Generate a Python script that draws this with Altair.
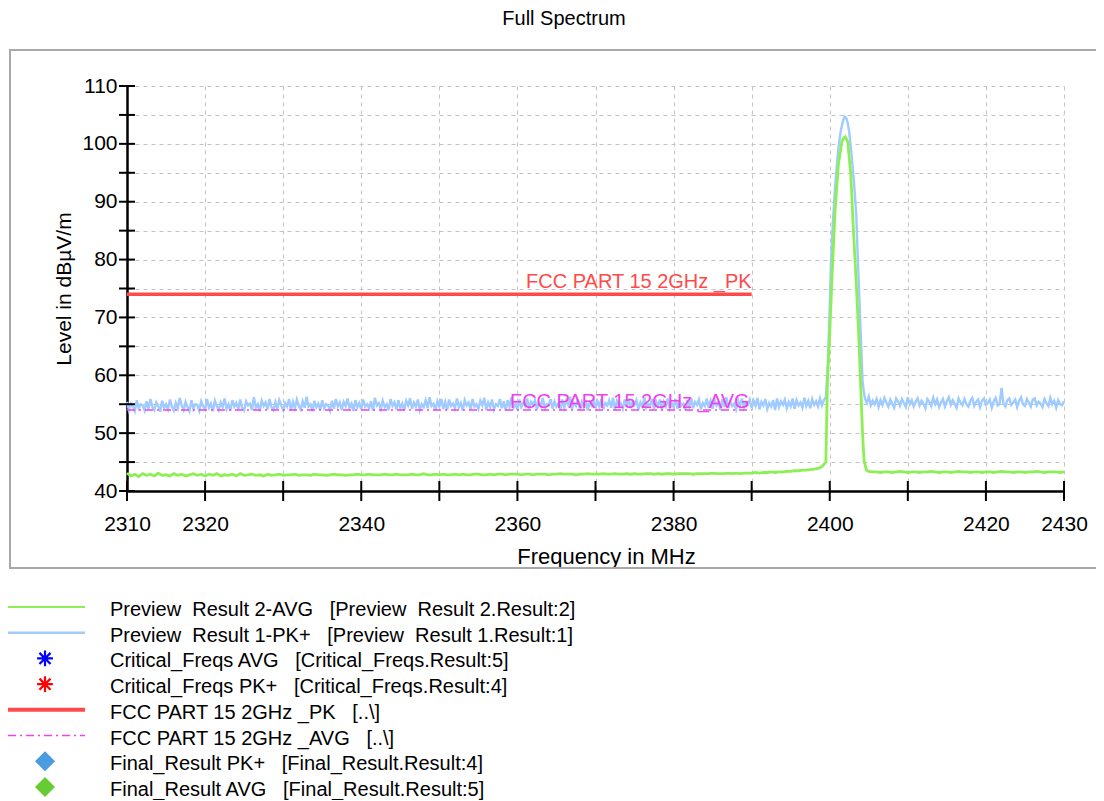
import altair as alt
import pandas as pd

# ------------------------------------------------------------------ data
# Preview Result 1-PK+ (light blue), 2310.00 ... 2399.75 MHz in 0.25 MHz steps
PK_STEP = 0.25
PK_LEFT_START = 2310.0
pk_left = [
    55.4, 54.0, 55.1, 54.6, 53.8, 55.7, 54.3, 55.0, 54.8, 53.9, 55.5, 54.2, 55.9, 54.5, 54.0, 55.3, 54.7, 53.7, 55.6, 54.4,
    55.0, 54.1, 55.8, 54.6, 53.9, 55.2, 54.3, 56.1, 54.8, 54.0, 55.4, 54.5, 53.8, 55.7, 54.2, 55.0, 54.9, 53.9, 55.5, 54.6,
    54.1, 55.9, 54.4, 55.1, 53.8, 55.6, 54.7, 54.0, 55.3, 54.5, 56.0, 54.2, 55.0, 53.9, 55.7, 54.6, 55.2, 54.1, 55.8, 54.3,
    53.9, 55.5, 54.8, 55.1, 54.0, 56.2, 54.4, 55.0, 53.8, 55.6, 54.7, 55.3, 54.1, 55.9, 54.5, 54.0, 55.4, 54.2, 55.7, 54.8,
    54.0, 55.2, 54.6, 55.9, 53.9, 55.4, 54.3, 55.8, 54.7, 54.1, 55.5, 54.4, 56.3, 54.6, 55.0, 53.8, 55.6, 54.5, 55.1, 54.0,
    55.7, 54.3, 55.0, 54.8, 53.9, 55.6, 54.2, 55.9, 54.6, 55.3, 54.0, 55.4, 54.7, 56.0, 54.4, 55.1, 53.8, 55.7, 54.5, 55.2,
    54.1, 55.8, 54.6, 55.0, 54.3, 55.5, 53.9, 56.1, 54.8, 55.2, 54.2, 55.6, 54.5, 55.0, 54.0, 55.9, 54.7, 55.3, 54.1, 55.7,
    54.4, 55.1, 53.9, 55.6, 54.8, 56.0, 54.2, 55.3, 54.6, 55.8, 54.0, 55.0, 54.5, 55.7, 54.3, 56.2, 54.7, 55.1, 53.9, 55.5,
    54.6, 55.9, 54.2, 55.4, 54.0, 55.8, 54.7, 55.1, 54.3, 56.0, 54.5, 55.2, 53.9, 55.7, 54.8, 55.3, 54.1, 55.9, 54.6, 55.0,
    54.2, 55.6, 54.8, 56.1, 54.0, 55.3, 54.5, 55.8, 54.1, 55.0, 54.7, 55.9, 54.3, 55.5, 53.9, 55.7, 54.6, 56.2, 54.4, 55.1,
    54.0, 55.8, 54.5, 55.2, 54.7, 56.0, 54.2, 55.4, 54.9, 55.7, 54.1, 55.3, 54.6, 56.1, 54.3, 55.0, 54.8, 55.9, 54.2, 55.5,
    54.6, 55.1, 54.0, 55.8, 54.4, 55.6, 54.9, 56.3, 54.2, 55.2, 54.7, 55.9, 54.1, 55.4, 54.5, 55.7, 53.9, 55.3, 54.8, 56.0,
    54.3, 55.5, 54.6, 55.9, 54.1, 55.2, 54.8, 55.7, 54.4, 56.1, 54.0, 55.6, 54.7, 55.1, 54.2, 55.8, 54.5, 56.0, 54.3, 55.4,
    54.9, 55.7, 54.1, 55.3, 54.6, 56.2, 54.4, 55.0, 54.8, 55.9, 54.2, 55.5, 54.7, 55.8, 54.0, 55.4, 54.6, 56.0, 54.3, 55.2,
    54.5, 55.9, 54.2, 55.6, 54.8, 55.1, 54.0, 55.7, 54.6, 56.1, 54.3, 55.4, 54.9, 55.8, 54.1, 55.2, 54.7, 56.0, 54.4, 55.6,
    54.2, 55.8, 54.8, 55.3, 54.0, 55.9, 54.5, 56.2, 54.3, 55.5, 54.7, 55.1, 54.1, 55.7, 54.6, 56.0, 54.4, 55.3, 54.9, 55.8,
    54.3, 55.6, 54.7, 56.1, 54.1, 55.4, 54.8, 55.9, 54.2, 55.2, 54.6, 55.7, 54.0, 56.0, 54.5, 55.5, 54.9, 55.8, 54.3, 55.4,
    54.6, 56.0, 54.2, 55.7, 54.8, 55.3, 54.4, 56.1, 54.7, 55.6, 54.3, 55.9, 54.9, 55.5, 54.6, 56.0, 54.8, 55.7, 56.2, 62.0,
]
pk_peak_f = [2400.0, 2400.15, 2400.4, 2400.7, 2401.1, 2401.4, 2401.7, 2401.9, 2402.1, 2402.3,
             2402.5, 2402.8, 2403.1, 2403.4, 2403.6, 2403.8, 2404.0, 2404.2, 2404.4]
pk_peak_v = [71.9, 79.5, 86.5, 92.8, 99.2, 102.2, 104.0, 104.7, 104.5, 103.6,
             102.0, 98.0, 93.5, 87.6, 80.0, 73.0, 66.0, 59.0, 56.8]
PK_RIGHT_START = 2404.5
pk_right = [
    56.0, 55.2, 56.3, 54.8, 55.6, 55.0, 55.9, 54.5, 55.7, 54.9, 56.1, 55.3, 54.6, 55.8, 55.1, 54.4, 56.0, 55.5, 54.7, 55.9,
    55.2, 54.5, 56.2, 55.0, 55.7, 54.6, 55.4, 56.0, 54.8, 55.6, 55.1, 54.3, 55.9, 55.4, 54.7, 56.1, 55.0, 55.8, 54.5, 55.3,
    55.9, 54.6, 55.5, 56.2, 54.9, 55.7, 55.1, 54.4, 56.0, 55.3, 54.8, 55.9, 55.0, 54.6, 55.6, 56.1, 54.7, 55.4, 55.8, 54.5,
    55.6, 56.0, 54.9, 55.2, 55.8, 54.4, 55.5, 56.1, 54.8, 55.0, 57.8, 55.1, 54.6, 55.7, 56.0, 54.9, 55.3, 55.8, 54.5, 55.6,
    56.2, 55.0, 54.7, 55.9, 55.3, 54.6, 55.8, 56.0, 54.8, 55.4, 55.1, 54.5, 55.9, 55.2, 54.7, 56.1, 55.0, 55.6, 54.4, 55.7,
    55.0, 54.8, 55.5,
]

# Preview Result 2-AVG (green), 2310.0 ... 2399.5 MHz in 0.5 MHz steps
AVG_STEP = 0.5
AVG_LEFT_START = 2310.0
avg_left = [
    43.1, 42.6, 42.9, 42.5, 43.0, 42.7, 42.9, 42.6, 43.1, 42.7, 42.8, 42.6, 43.0, 42.7, 42.9, 42.6, 42.8, 43.0, 42.7, 42.9,
    42.6, 42.9, 42.7, 43.0, 42.6, 42.8, 42.7, 42.9, 42.6, 43.0, 42.7, 42.8, 42.9, 42.7, 42.8, 42.6, 42.9, 42.7, 42.8, 42.9,
    42.7, 42.8, 42.8, 42.9, 42.7, 42.8, 42.8, 42.7, 42.9, 42.8, 42.8, 42.7, 42.8, 42.9, 42.8, 42.8, 42.7, 42.8, 42.8, 42.9,
    42.8, 42.8, 42.9, 42.8, 42.8, 42.8, 42.9, 42.8, 42.8, 42.9, 42.8, 42.8, 42.8, 42.9, 42.8, 42.8, 43.0, 42.8, 42.8, 42.9,
    42.8, 42.9, 42.8, 42.8, 42.9, 42.8, 42.9, 42.8, 42.8, 42.9, 42.9, 42.8, 42.8, 42.9, 42.8, 42.9, 42.9, 42.8, 42.9, 42.9,
    42.9, 42.8, 42.9, 42.9, 42.8, 42.9, 42.9, 42.9, 42.8, 42.9, 42.9, 43.0, 42.9, 42.9, 42.9, 42.8, 42.9, 42.9, 43.0, 42.9,
    42.9, 42.9, 43.0, 42.9, 42.9, 43.0, 42.9, 42.9, 43.0, 42.9, 43.0, 42.9, 42.9, 43.0, 43.0, 42.9, 43.0, 42.9, 43.0, 43.0,
    42.9, 43.0, 43.0, 43.0, 43.0, 42.9, 43.0, 43.0, 43.0, 43.0, 43.1, 43.0, 43.0, 43.0, 43.1, 43.0, 43.1, 43.0, 43.1, 43.1,
    43.1, 43.2, 43.1, 43.2, 43.2, 43.3, 43.2, 43.3, 43.3, 43.4, 43.4, 43.5, 43.5, 43.6, 43.6, 43.7, 43.8, 43.9, 44.2, 45.0,
]
avg_peak_f = [2399.7, 2400.0, 2400.35, 2400.7, 2401.1, 2401.55, 2401.8, 2402.0, 2402.3, 2402.7,
              2403.0, 2403.35, 2403.7, 2404.0, 2404.2, 2404.4, 2404.7]
avg_peak_v = [58.6, 67.3, 78.9, 88.8, 96.3, 100.4, 101.0, 101.2, 100.4, 94.6,
              85.9, 77.1, 67.3, 56.9, 49.9, 45.2, 43.6]
AVG_RIGHT_START = 2405.0
avg_right = [
    43.4, 43.3, 43.3, 43.2, 43.3, 43.3, 43.2, 43.3, 43.4, 43.3, 43.2, 43.3, 43.3, 43.2, 43.3, 43.3, 43.4, 43.3, 43.2, 43.3,
    43.3, 43.2, 43.3, 43.4, 43.3, 43.3, 43.2, 43.3, 43.3, 43.2, 43.3, 43.3, 43.2, 43.3, 43.4, 43.3, 43.3, 43.2, 43.3, 43.3,
    43.2, 43.3, 43.3, 43.4, 43.3, 43.2, 43.3, 43.3, 43.3, 43.2, 43.3,
]

# limit lines
limit_f = [2310, 2390]
pk_limit = [74, 74]
avg_limit = [54, 54]
pk_limit_name = "FCC PART 15 2GHz _PK"
avg_limit_name = "FCC PART 15 2GHz _AVG"

# axes
x_grid_ticks = list(range(2310, 2431, 10))
x_label_ticks = [2310, 2320, 2340, 2360, 2380, 2400, 2420, 2430]
y_grid_ticks = list(range(40, 111, 5))
x_domain = [2310, 2430]
y_domain = [40, 110]

title_text = "Full Spectrum"
x_title = "Frequency in MHz"
y_title = "Level in dBµV/m"

NB = "\u00a0"
legend_labels = [
    f"Preview{NB} Result 2-AVG{NB}{NB} [Preview{NB} Result 2.Result:2]",
    f"Preview{NB} Result 1-PK+{NB}{NB} [Preview{NB} Result 1.Result:1]",
    f"Critical_Freqs AVG{NB}{NB} [Critical_Freqs.Result:5]",
    f"Critical_Freqs PK+{NB}{NB} [Critical_Freqs.Result:4]",
    f"FCC PART 15 2GHz _PK{NB}{NB} [..\\]",
    f"FCC PART 15 2GHz _AVG{NB}{NB} [..\\]",
    f"Final_Result PK+{NB}{NB} [Final_Result.Result:4]",
    f"Final_Result AVG{NB}{NB} [Final_Result.Result:5]",
]

# ------------------------------------------------------------------ styles
FONT = "Liberation Sans"
C_PK = "#9fcbff"
C_AVG = "#8cf055"
C_RED = "#ff4a4a"
C_MAG = "#f040f0"
GRID = "#c4c4c4"

W, H = 937, 405

# ------------------------------------------------------------------ tables
pk_f = [PK_LEFT_START + PK_STEP * i for i in range(len(pk_left))] + pk_peak_f + \
       [PK_RIGHT_START + PK_STEP * i for i in range(len(pk_right))]
pk_v = pk_left + pk_peak_v + pk_right
avg_f = [AVG_LEFT_START + AVG_STEP * i for i in range(len(avg_left))] + avg_peak_f + \
        [AVG_RIGHT_START + AVG_STEP * i for i in range(len(avg_right))]
avg_v = avg_left + avg_peak_v + avg_right

pk_df = pd.DataFrame({"f": pk_f, "v": pk_v})
avg_df = pd.DataFrame({"f": avg_f, "v": avg_v})
pk_lim_df = pd.DataFrame({"f": limit_f, "v": pk_limit})
avg_lim_df = pd.DataFrame({"f": limit_f, "v": avg_limit})
pk_lab_df = pd.DataFrame({"f": [limit_f[-1]], "v": [pk_limit[-1]], "t": [pk_limit_name]})
avg_lab_df = pd.DataFrame({"f": [limit_f[-1]], "v": [avg_limit[-1]], "t": [avg_limit_name]})
xt_df = pd.DataFrame({"f": x_grid_ticks})
yt_df = pd.DataFrame({"v": y_grid_ticks})

label_list = ",".join(str(v) for v in x_label_ticks)

x_axis = alt.Axis(
    values=x_grid_ticks, format="d",
    labelExpr=f"indexof([{label_list}], datum.value) >= 0 ? datum.label : ''",
    labelFlush=False, labelOverlap=False, labelFont=FONT, labelFontSize=21,
    labelColor="black", labelPadding=22,
    grid=True, gridColor=GRID, gridDash=[4, 4], gridWidth=1,
    ticks=False, tickSize=0, domainColor="black", domainWidth=2.5,
    titleFont=FONT, titleFontSize=22, titleFontWeight="normal", titleColor="black",
    titleX=479, titleY=65, titleBaseline="middle", titleAlign="center",
)
y_axis = alt.Axis(
    values=y_grid_ticks, format="d",
    labelExpr="datum.value % 10 === 0 ? datum.label : ''",
    labelOverlap=False, labelFont=FONT, labelFontSize=21, labelColor="black",
    labelPadding=10,
    grid=True, gridColor=GRID, gridDash=[4, 4], gridWidth=1,
    ticks=False, tickSize=0, domainColor="black", domainWidth=2.5,
    titleFont=FONT, titleFontSize=21, titleFontWeight="normal", titleColor="black",
    titleX=-63, titleY=H / 2, titleAngle=270, titleBaseline="middle", titleAlign="center",
)
X = alt.X("f:Q", scale=alt.Scale(domain=x_domain, nice=False, zero=False), axis=x_axis, title=x_title)
Y = alt.Y("v:Q", scale=alt.Scale(domain=y_domain, nice=False, zero=False), axis=y_axis, title=y_title)

pk_line = alt.Chart(pk_df).mark_line(color=C_PK, strokeWidth=2.4).encode(x=X, y=Y)
avg_line = alt.Chart(avg_df).mark_line(color=C_AVG, strokeWidth=2.8).encode(x=X, y=Y)
avg_lim = alt.Chart(avg_lim_df).mark_line(color=C_MAG, strokeWidth=1.5, strokeDash=[8, 4, 2, 4]).encode(x=X, y=Y)
pk_lim = alt.Chart(pk_lim_df).mark_line(color=C_RED, strokeWidth=3.5).encode(x=X, y=Y)
pk_lab = alt.Chart(pk_lab_df).mark_text(
    align="right", baseline="alphabetic", dy=-6, font=FONT, fontSize=20, color=C_RED
).encode(x=X, y=Y, text="t:N")
avg_lab = alt.Chart(avg_lab_df).mark_text(
    align="right", baseline="alphabetic", dy=-2, dx=-2, font=FONT, fontSize=20, color=C_MAG
).encode(x=X, y=Y, text="t:N")
x_ticks = alt.Chart(xt_df).mark_rule(color="black", strokeWidth=2).encode(
    x=X, y=alt.value(H - 10), y2=alt.value(H + 10))
y_ticks = alt.Chart(yt_df).mark_rule(color="black", strokeWidth=2).encode(
    y=Y, x=alt.value(-8), x2=alt.value(8))

plot = alt.layer(pk_line, avg_line, avg_lim, pk_lim, pk_lab, avg_lab, x_ticks, y_ticks)

# ------------------------------------------------------------------ legend
leg_df = pd.DataFrame({"idx": list(range(len(legend_labels))), "label": legend_labels})
LY = alt.Y("idx:Q", scale=alt.Scale(domain=[0, len(legend_labels) - 1], range=[521, 701]), axis=None)
leg_base = alt.Chart(leg_df)

leg_text = leg_base.mark_text(align="left", baseline="middle", dy=3, font=FONT, fontSize=20,
                              color="black").encode(x=alt.value(-17), y=LY, text="label:N")


def leg_rule(i, color, width, dash=None):
    kw = dict(color=color, strokeWidth=width)
    if dash:
        kw["strokeDash"] = dash
    return leg_base.transform_filter(alt.datum.idx == i).mark_rule(**kw).encode(
        y=LY, x=alt.value(-119), x2=alt.value(-42))


ASTERISK = "M0,-1L0,1M-1,0L1,0M-0.7,-0.7L0.7,0.7M-0.7,0.7L0.7,-0.7"


def leg_point(i, color, shape, size, filled):
    if filled:
        mk = dict(shape=shape, size=size, filled=True, fill=color, opacity=1, strokeWidth=0)
    else:
        mk = dict(shape=shape, size=size, filled=False, stroke=color, strokeWidth=2.2, opacity=1)
    return leg_base.transform_filter(alt.datum.idx == i).mark_point(**mk).encode(
        y=LY, x=alt.value(-82))


legend = alt.layer(
    leg_rule(0, C_AVG, 2),
    leg_rule(1, C_PK, 2.5),
    leg_point(2, "#0000ff", ASTERISK, 250, False),
    leg_point(3, "#ff0000", ASTERISK, 250, False),
    leg_rule(4, C_RED, 4),
    leg_rule(5, C_MAG, 1.5, [8, 4, 2, 4]),
    leg_point(6, "#4a9be0", "diamond", 400, True),
    leg_point(7, "#66cc33", "diamond", 400, True),
    leg_text,
)

# ------------------------------------------------------------------ frame & title
one = pd.DataFrame({"a": [0]})
frame = alt.Chart(one).mark_rect(fillOpacity=0, stroke="#a8a8a8", strokeWidth=2).encode(
    x=alt.value(-117), x2=alt.value(990), y=alt.value(-36), y2=alt.value(482))
title = alt.Chart(pd.DataFrame({"t": [title_text]})).mark_text(
    align="center", baseline="middle", font=FONT, fontSize=20, color="black"
).encode(x=alt.value(437), y=alt.value(-67), text="t:N")

chart = alt.layer(frame, title, plot, legend).resolve_scale(
    x="independent", y="independent"
).properties(
    width=W, height=H,
    padding={"left": 119, "top": 78, "right": 32, "bottom": 309},
    autosize=alt.AutoSizeParams(type="none"),
).configure_view(stroke=None)

chart.save("out.html", embed_options={"renderer": "svg", "actions": False})
